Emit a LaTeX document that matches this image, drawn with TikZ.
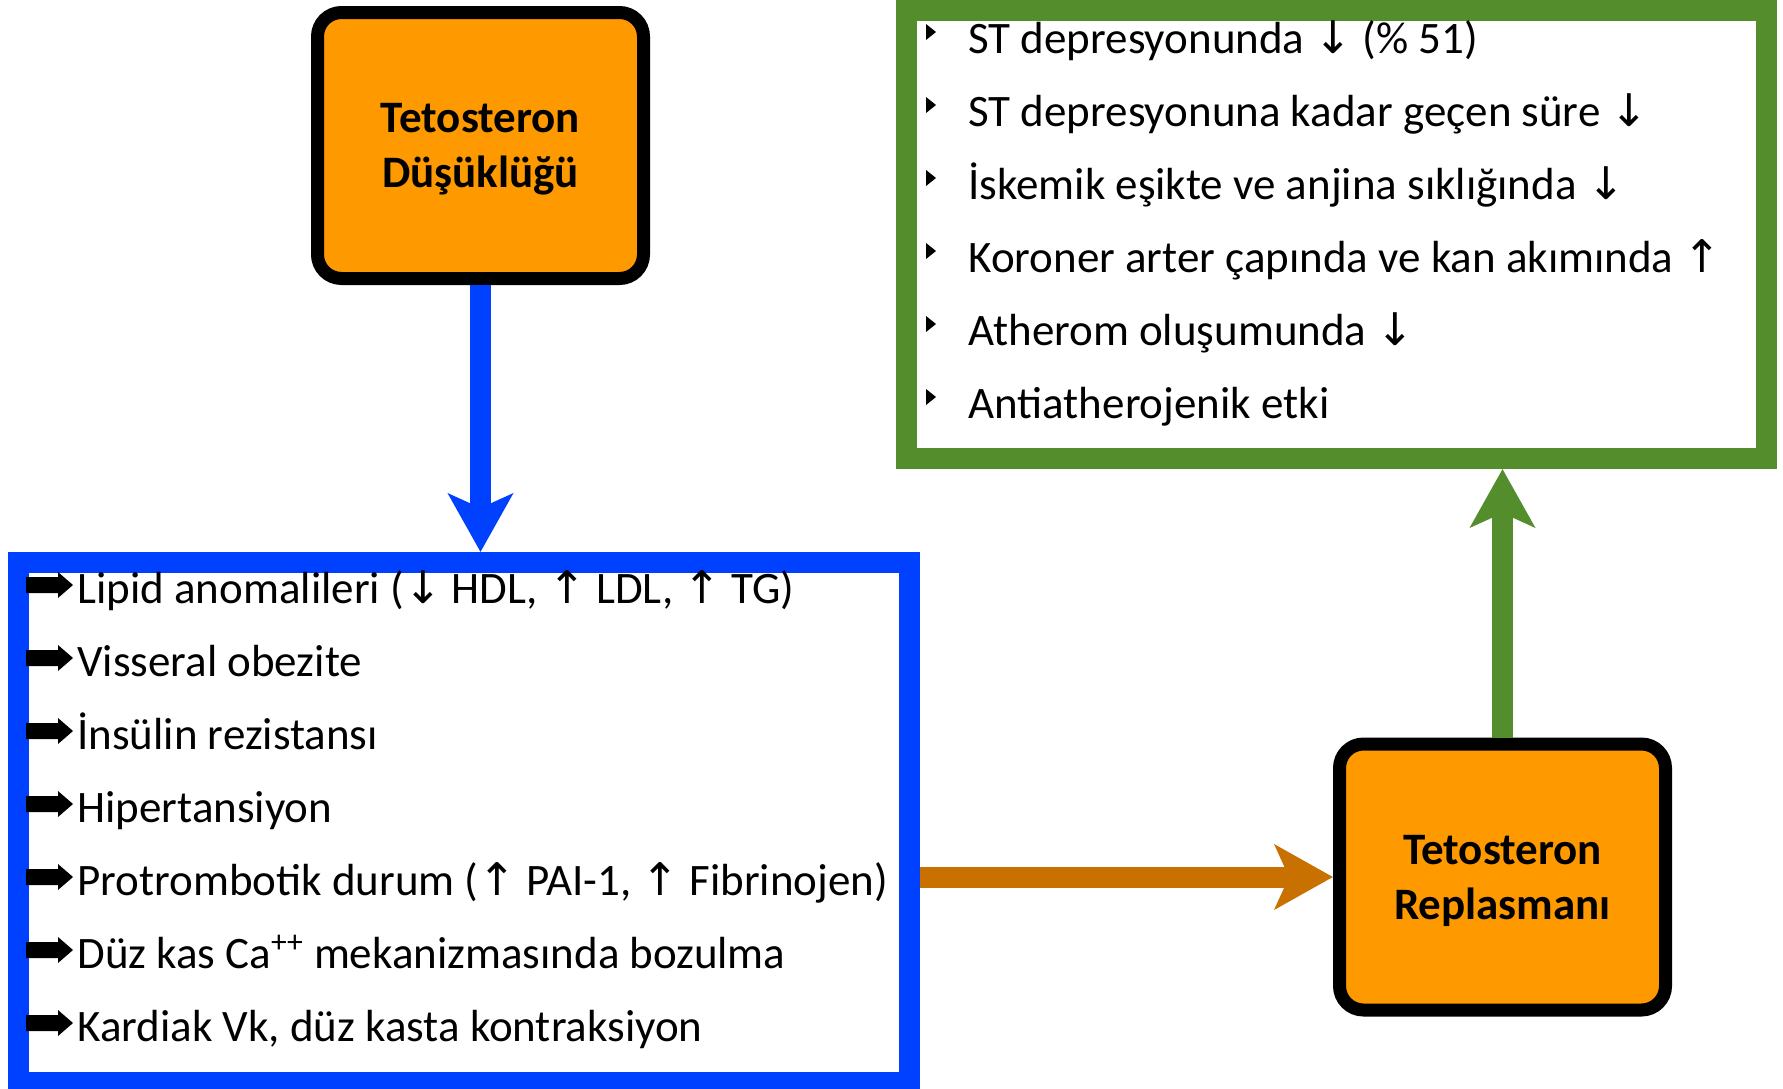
\documentclass[tikz,border=0pt]{standalone}
\usepackage{fontspec}
\setmainfont{Carlito}
\newfontfamily\arrowfont{DejaVu Sans}
\usepackage{tikz}
\usetikzlibrary{arrows.meta, positioning, calc}

\definecolor{boxorange}{RGB}{255,153,0}
\definecolor{listblue}{RGB}{0,64,255}
\definecolor{effgreen}{RGB}{84,141,44}
\definecolor{arrorange}{RGB}{200,112,0}

\newcommand\dn{{\arrowfont ↓}}
\newcommand\up{{\arrowfont ↑}}

\begin{document}
\begin{tikzpicture}[
  x = 0.5pt, y = -0.5pt,
  hormone/.style    = {rectangle, rounded corners=12pt,
                       draw=black, line width=6.5pt, fill=boxorange,
                       minimum width=163pt, minimum height=133pt, text depth=0pt,
                       align=center, font=\fontsize{22.5}{27.5}\selectfont\bfseries},
  frameBLUE/.style  = {rectangle, draw=listblue, line width=10.5pt,
                       minimum width=445.25pt, minimum height=259.75pt},
  frameGREEN/.style = {rectangle, draw=effgreen, line width=10.5pt,
                       minimum width=430.25pt, minimum height=224pt},
  item/.style       = {anchor=base west, inner sep=0pt, font=\fontsize{22.5}{27}\selectfont},
  flow/.style       = {-{Stealth[length=29pt, width=32pt, inset=7pt]},
                       line width=10.5pt, color=#1},
]
\useasboundingbox (0,0) rectangle (1783,1088);

\node[hormone] (low) at (480.5,145.5) {Tetosteron\\Düşüklüğü};
\node[hormone] (rep) at (1502.5,877) {Tetosteron\\Replasmanı};

\node[frameBLUE]  (lst) at (463.75,822.25) {};
\node[frameGREEN] (eff) at (1336.25,234.5) {};

%% Risk list
\node[item] (b1) at (77,603)  {Lipid anomalileri (\dn{} HDL, \up{} LDL, \up{} TG)};
\node[item] (b2) at (77,676)  {Visseral obezite};
\node[item] (b3) at (77,749)  {İnsülin rezistansı};
\node[item] (b4) at (77,822)  {Hipertansiyon};
\node[item] (b5) at (77,895)  {Protrombotik durum (\up{} PAI-1, \up{} Fibrinojen)};
\node[item] (b6) at (77,968)  {Düz kas Ca\textsuperscript{++} mekanizmasında bozulma};
\node[item] (b7) at (77,1041) {Kardiak Vk, düz kasta kontraksiyon};

%% Replacement effects
\node[item] (g1) at (968,53)  {ST depresyonunda \dn{} (\% 51)};
\node[item] (g2) at (968,126) {ST depresyonuna kadar geçen süre \dn};
\node[item] (g3) at (968,199) {İskemik eşikte ve anjina sıklığında \dn};
\node[item] (g4) at (968,272) {Koroner arter çapında ve kan akımında \up};
\node[item] (g5) at (968,345) {Atherom oluşumunda \dn};
\node[item] (g6) at (968,418) {Antiatherojenik etki};

%% Bullets
\foreach \i in {1,...,7}
  \fill[shift={(b\i.base west)}] (-51,-26) -- (-19,-26) -- (-19,-31) -- (-4,-18)
    -- (-19,-5) -- (-19,-10) -- (-51,-10) -- cycle;
\foreach \i in {1,...,6}
  \fill[shift={(g\i.base west)}] (-42,-29) -- (-32,-21) -- (-42,-13) -- cycle;

%% Connecting arrows
\draw[flow=listblue]  (low.south) -- (low.south |- lst.north);
\draw[flow=arrorange] (lst.east |- rep.west) -- (rep.west);
\draw[flow=effgreen]  (rep.north) -- (rep.north |- eff.south);

\end{tikzpicture}
\end{document}
